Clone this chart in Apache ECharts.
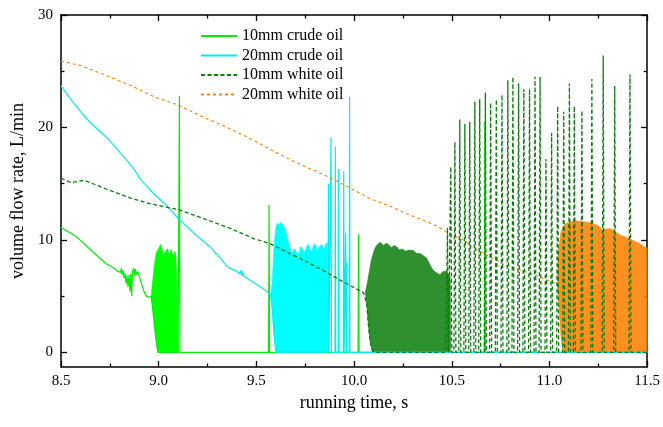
<!DOCTYPE html>
<html><head><meta charset="utf-8">
<script src="https://cdn.jsdelivr.net/npm/echarts@6/dist/echarts.min.js"></script>
<style>html,body{margin:0;padding:0;background:#fff}#c{width:663px;height:427px}</style>
</head><body><div id="c"></div>
<script>
// ---------- data ----------
const legendNames = ['10mm crude oil', '20mm crude oil', '10mm white oil', '20mm white oil'];
const xTicks = [8.5, 9.0, 9.5, 10.0, 10.5, 11.0, 11.5];
const yMajor = [0, 10, 20, 30];
const yMinor = [5, 15, 25];

// 10mm crude oil
const crude10Pre = [[8.5,11.1],[8.53,10.8],[8.57,10.4],[8.61,9.8],[8.64,9.3],[8.69,8.5],[8.73,7.9],[8.77,7.5],[8.79,7.2],[8.805,7.1],[8.809,7.5],[8.813,6.9],[8.818,7.3],[8.823,6.6],[8.828,7.0],[8.833,6.1],[8.838,6.8],[8.843,5.8],[8.848,6.9],[8.853,5.4],[8.857,7.0],[8.862,5.0],[8.866,7.2],[8.872,7.5],[8.876,6.8],[8.881,7.4],[8.886,6.9],[8.892,7.2],[8.9,6.8],[8.914,6.0],[8.925,5.4],[8.937,5.0],[8.95,4.9],[8.962,5.0]];
const crude10BurstTop = [[8.962,5.0],[8.966,5.8],[8.970,6.5],[8.975,7.3],[8.979,7.9],[8.984,8.5],[8.988,8.9],[8.992,9.0],[8.996,9.1],[9.002,9.3],[9.009,9.6],[9.013,9.4],[9.016,9.3],[9.021,8.9],[9.026,8.6],[9.031,8.9],[9.038,9.0],[9.043,9.2],[9.047,9.2],[9.051,8.8],[9.055,8.5],[9.060,8.9],[9.064,9.2],[9.070,8.8],[9.076,8.5],[9.080,8.8],[9.084,9.0],[9.088,8.6],[9.092,7.0],[9.096,4.0],[9.099,0.2]];
const crude10BurstBottom = [[8.962,5.0],[8.970,3.8],[8.979,2.3],[8.988,0.9],[8.996,0],[9.099,0]];
const crude10SpikeT = [9.106, 9.565, 10.023, 10.669];
const crude10SpikeV = [22.8, 13.1, 10.5, 20.5];

// 20mm crude oil
const crude20Pre = [[8.5,23.7],[8.55,22.5],[8.6,21.4],[8.64,20.6],[8.69,19.8],[8.74,19.0],[8.8,17.8],[8.85,16.8],[8.877,16.2],[8.911,15.3],[8.97,14.2],[9.038,13.1],[9.106,11.8],[9.18,10.6],[9.268,9.3],[9.31,8.5],[9.352,7.6],[9.4,7.2],[9.415,7.0],[9.42,7.3],[9.425,6.8],[9.43,7.2],[9.435,6.8],[9.445,6.9],[9.488,6.2],[9.54,5.6],[9.573,5.1]];
const crude20BurstTop = [[9.573,5.1],[9.578,5.8],[9.582,6.5],[9.586,8.2],[9.590,9.5],[9.595,10.3],[9.599,11.0],[9.603,11.3],[9.607,11.5],[9.615,11.3],[9.624,11.55],[9.632,11.4],[9.641,11.2],[9.650,10.8],[9.658,10.3],[9.664,9.8],[9.670,9.4],[9.677,9.0],[9.683,8.8],[9.692,9.2],[9.701,9.1],[9.709,8.7],[9.718,8.8],[9.726,9.4],[9.734,9.3],[9.743,8.8],[9.752,9.1],[9.760,9.5],[9.768,9.6],[9.777,9.0],[9.785,9.1],[9.794,9.6],[9.803,9.6],[9.811,9.0],[9.819,9.3],[9.828,9.5],[9.836,9.6],[9.843,9.2],[9.850,9.3],[9.856,9.7],[9.862,9.7],[9.866,0]];
const crude20BurstBottom = [[9.573,5.1],[9.582,3.8],[9.590,1.7],[9.599,0.2],[9.603,0],[9.866,0]];
const crude20SpikeT = [9.869, 9.882, 9.904, 9.921, 9.947, 9.957, 9.962, 9.977];
const crude20SpikeV = [15.0, 19.1, 18.3, 16.3, 16.1, 10.6, 8.0, 22.7];

// 10mm white oil
const white10Pre = [[8.5,15.5],[8.55,15.1],[8.62,15.3],[8.72,14.6],[8.86,13.7],[8.96,13.2],[9.1,12.7],[9.23,11.9],[9.37,11.0],[9.49,10.1],[9.565,9.7],[9.66,8.9],[9.752,8.1],[9.84,7.3],[9.921,6.5],[10.006,5.7],[10.049,5.3],[10.057,5.3]];
const white10BurstTop = [[10.057,5.3],[10.066,6.0],[10.074,6.8],[10.083,7.7],[10.091,8.4],[10.1,8.9],[10.108,9.3],[10.12,9.6],[10.134,9.8],[10.15,9.5],[10.165,9.7],[10.176,9.6],[10.19,9.3],[10.205,9.5],[10.218,9.4],[10.232,9.1],[10.247,9.2],[10.261,9.0],[10.28,9.1],[10.303,9.05],[10.32,8.8],[10.338,8.8],[10.355,8.6],[10.371,8.4],[10.388,7.8],[10.405,7.3],[10.42,7.1],[10.439,6.9],[10.455,7.2],[10.473,7.2],[10.483,6.9],[10.492,6.7],[10.494,0]];
const white10BurstBottom = [[10.057,5.3],[10.066,4.1],[10.074,2.3],[10.083,0.9],[10.092,0.2],[10.1,0],[10.47,0]];
const white10SpikeT = [10.478,10.495,10.516,10.541,10.567,10.592,10.618,10.643,10.672,10.699,10.728,10.757,10.787,10.813,10.842,10.869,10.898,10.926,10.952,10.982,11.011,11.042,11.073,11.102,11.127,11.166,11.217,11.275,11.334,11.412];
const white10SpikeV = [11.1,16.5,18.7,20.7,20.3,20.5,22.3,22.5,23.1,22.2,22.5,22.9,24.2,24.5,23.9,23.4,23.4,24.5,24.5,17.2,19.5,21.9,21.4,23.9,21.9,21.5,24.3,26.4,23.7,24.7];

// 20mm white oil
const white20Pre = [[8.5,25.9],[8.6,25.5],[8.72,24.7],[8.86,23.7],[8.98,22.7],[9.1,22.0],[9.23,20.9],[9.35,20.0],[9.47,19.0],[9.565,18.1],[9.7,16.9],[9.87,15.6],[9.97,14.7],[10.09,13.6],[10.17,13.1],[10.26,12.4],[10.43,11.2],[10.48,10.6],[10.57,9.9],[10.6,9.4],[10.77,7.8],[10.94,6.8],[11.02,6.2],[11.04,6.2]];
const white20BurstTop = [[11.04,6.2],[11.046,8.8],[11.052,9.8],[11.059,10.7],[11.068,11.1],[11.076,11.3],[11.09,11.5],[11.11,11.6],[11.13,11.7],[11.16,11.65],[11.185,11.6],[11.21,11.5],[11.23,11.4],[11.246,11.3],[11.265,11.0],[11.28,10.9],[11.3,11.0],[11.314,11.0],[11.33,10.8],[11.348,10.6],[11.365,10.4],[11.382,10.3],[11.41,10.1],[11.433,9.9],[11.46,9.7],[11.484,9.4],[11.5,9.3]];
const white20BurstBottom = [[11.04,6.2],[11.051,3.5],[11.059,1.4],[11.068,0.1],[11.5,0]];

// ---------- build ----------
const FONT = 'Liberation Serif';
const C = {c10:'#00ee00', c10b:'#00ff00', c20:'#00eeee', c20b:'#00ffff', w10:'#0a7d0a', w10b:'#0a7d0a', w20:'#ff8000', w20b:'#ff8000'};

function spikes(times, vals, half) {
  const out = [];
  times.forEach((t, i) => { out.push([t - half, 0], [t, vals[i]], [t + half, 0]); });
  return out;
}
const crude10Data = crude10Pre.concat(crude10BurstBottom, spikes(crude10SpikeT, crude10SpikeV, 0.0025), [[11.5, 0]]);
const crude20Data = crude20Pre.concat(crude20BurstBottom, spikes(crude20SpikeT, crude20SpikeV, 0.002), [[11.5, 0]]);
const white10Data = white10Pre.concat(white10BurstBottom, spikes(white10SpikeT, white10SpikeV, 0.005), [[11.5, 0]]);
const white20Data = white20Pre.slice();

function lineSeries(name, data, color, width, dash) {
  return {type:'line', name, data, symbol:'none', showSymbol:false, animation:false,
    lineStyle:{color, width, type: dash || 'solid'}, itemStyle:{color}, z:2};
}
function band(name, top, bottom, color, opacity) {
  return {type:'custom', name, silent:true, animation:false, data:[top[0]],
    renderItem(params, api) {
      const pts = top.concat(bottom.slice().reverse()).map(p => api.coord(p));
      return {type:'polygon', shape:{points:pts}, style:{fill:color, stroke:color, lineWidth:0.6, opacity: opacity}};
    }, z:2};
}

const axisLineStyle = {color:'#000', width:1.5};
const tickStyle = {color:'#000', width:1.3};
function xAxis(pos, labels) {
  return {type:'value', min:8.5, max:11.5, interval:0.5, position:pos,
    axisLine:{show:true, onZero:false, lineStyle:axisLineStyle},
    axisTick:{show:true, inside:true, length:6, lineStyle:tickStyle},
    minorTick:{show:true, splitNumber:2, length:3.5, lineStyle:tickStyle},
    splitLine:{show:false}, minorSplitLine:{show:false},
    axisLabel:{show:labels, color:'#000', fontFamily:FONT, fontSize:15, margin:7, formatter:v => v.toFixed(1)},
    name: labels ? 'running time, s' : '', nameLocation:'middle', nameGap:24,
    nameTextStyle:{fontFamily:FONT, fontSize:18, color:'#000'}};
}
function yAxis(pos, major, labels) {
  return {type:'value', min:-1.3, max:30, position:pos,
    axisLine:{show:major, onZero:false, lineStyle:axisLineStyle},
    axisTick:{show:true, inside:true, length: major ? 6 : 3.5, lineStyle:tickStyle, customValues: major ? yMajor : yMinor},
    splitLine:{show:false},
    axisLabel:{show:labels, customValues:yMajor, color:'#000', fontFamily:FONT, fontSize:15, margin:8},
    name: labels ? 'volume flow rate, L/min' : '', nameLocation:'middle', nameGap:32, nameRotate:90,
    nameTextStyle:{fontFamily:FONT, fontSize:18, color:'#000'}};
}

const chart = echarts.init(document.getElementById('c'), null, {renderer:'canvas'});
chart.setOption({
  animation:false,
  backgroundColor:'#fff',
  grid:{left:61, right:13, top:15, bottom:60},
  legend:{data:legendNames, orient:'vertical', left:200, top:28, padding:0,
    itemWidth:36, itemHeight:14, itemGap:3.5,
    itemStyle:{opacity:0},
    textStyle:{fontFamily:FONT, fontSize:16, color:'#000', lineHeight:16}},
  xAxis:[xAxis('bottom', true), xAxis('top', false)],
  yAxis:[yAxis('left', true, true), yAxis('left', false, false), yAxis('right', true, false), yAxis('right', false, false)],
  series:[
    lineSeries(legendNames[0], crude10Data, C.c10, 1.2),
    band('b1', crude10BurstTop, crude10BurstBottom, C.c10b, 1),
    lineSeries(legendNames[1], crude20Data, C.c20, 1.2),
    band('b2', crude20BurstTop, crude20BurstBottom, C.c20b, 1),
    lineSeries(legendNames[3], white20Data, C.w20, 1.1, [3, 3]),
    band('b4', white20BurstTop, white20BurstBottom, C.w20b, 0.88),
    lineSeries(legendNames[2], white10Data, C.w10, 1.3, [4, 2.5]),
    band('b3', white10BurstTop, white10BurstBottom, C.w10b, 0.85)
  ]
});
</script></body></html>
